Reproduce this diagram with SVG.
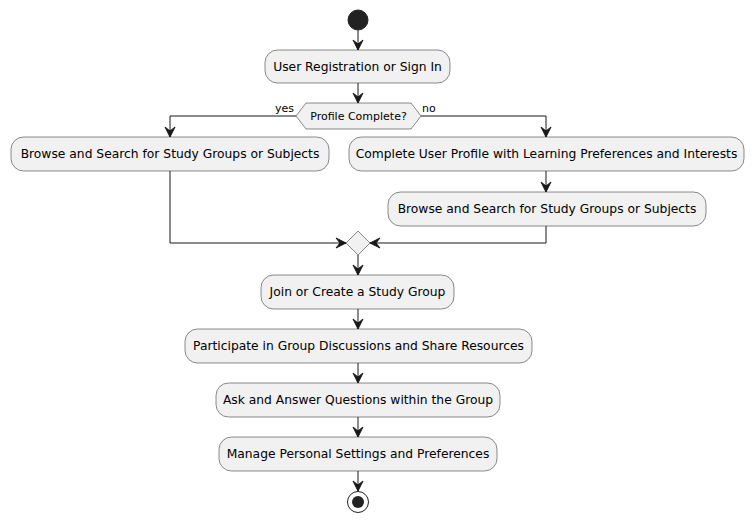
<svg xmlns="http://www.w3.org/2000/svg" width="754" height="523" viewBox="0 0 754 523">
<defs>
<style>
.box{fill:#F1F1F1;stroke:#181818;stroke-width:0.5}
.t{font-family:"DejaVu Sans",sans-serif;font-size:12.3px;fill:#000;text-anchor:middle}
.s{font-family:"DejaVu Sans",sans-serif;font-size:11px;fill:#000}
.ln{fill:none;stroke:#181818;stroke-width:1}
.ah{fill:#181818;stroke:#181818;stroke-width:1}
</style>
</defs>
<rect width="754" height="523" fill="#FFFFFF"/>
<g id="connectors">
<line class="ln" x1="358" y1="30" x2="358" y2="50"/>
<polygon class="ah" points="358,50 353,40 358,44 363,40"/>
<line class="ln" x1="358" y1="83" x2="358" y2="103"/>
<polygon class="ah" points="358,103 353,93 358,97 363,93"/>
<polyline class="ln" points="296,116 170,116 170,137"/>
<polygon class="ah" points="170,137 165,127 170,131 175,127"/>
<polyline class="ln" points="421,116 546,116 546,137"/>
<polygon class="ah" points="546,137 541,127 546,131 551,127"/>
<line class="ln" x1="546" y1="171" x2="546" y2="192"/>
<polygon class="ah" points="546,192 541,182 546,186 551,182"/>
<polyline class="ln" points="170,171 170,243 346,243"/>
<polygon class="ah" points="346,243 336,238 340,243 336,248"/>
<polyline class="ln" points="546,226 546,243 370,243"/>
<polygon class="ah" points="370,243 380,238 376,243 380,248"/>
<line class="ln" x1="358" y1="255" x2="358" y2="275"/>
<polygon class="ah" points="358,275 353,265 358,269 363,265"/>
<line class="ln" x1="358" y1="309" x2="358" y2="329"/>
<polygon class="ah" points="358,329 353,319 358,323 363,319"/>
<line class="ln" x1="358" y1="363" x2="358" y2="383"/>
<polygon class="ah" points="358,383 353,373 358,377 363,373"/>
<line class="ln" x1="358" y1="417" x2="358" y2="437"/>
<polygon class="ah" points="358,437 353,427 358,431 363,427"/>
<line class="ln" x1="358" y1="471" x2="358" y2="491"/>
<polygon class="ah" points="358,491 353,481 358,485 363,481"/>
<text class="s" x="275" y="112">yes</text>
<text class="s" x="422" y="112">no</text>
</g>
<g id="start"><circle cx="358" cy="20" r="10" fill="#222222" stroke="#222222"/></g>
<g id="n1"><rect class="box" x="265" y="50" width="185" height="33" rx="12.5"/><text class="t" x="357.5" y="71">User Registration or Sign In</text></g>
<g id="d1"><polygon class="box" points="296,116 306,103 411,103 421,116 411,129 306,129"/><text class="s" x="358.5" y="120" text-anchor="middle">Profile Complete?</text></g>
<g id="n2"><rect class="box" x="11" y="137" width="318" height="34" rx="12.5"/><text class="t" x="170" y="158">Browse and Search for Study Groups or Subjects</text></g>
<g id="n3"><rect class="box" x="349" y="137" width="395" height="34" rx="12.5"/><text class="t" x="546.5" y="158">Complete User Profile with Learning Preferences and Interests</text></g>
<g id="n4"><rect class="box" x="388" y="192" width="318" height="34" rx="12.5"/><text class="t" x="547" y="213">Browse and Search for Study Groups or Subjects</text></g>
<g id="merge"><polygon class="box" points="358,231 370,243 358,255 346,243"/></g>
<g id="n5"><rect class="box" x="261" y="275" width="193" height="34" rx="12.5"/><text class="t" x="357.5" y="296">Join or Create a Study Group</text></g>
<g id="n6"><rect class="box" x="185" y="329" width="347" height="34" rx="12.5"/><text class="t" x="358.5" y="350">Participate in Group Discussions and Share Resources</text></g>
<g id="n7"><rect class="box" x="216" y="383" width="284" height="34" rx="12.5"/><text class="t" x="358" y="404">Ask and Answer Questions within the Group</text></g>
<g id="n8"><rect class="box" x="219" y="437" width="278" height="34" rx="12.5"/><text class="t" x="358" y="458">Manage Personal Settings and Preferences</text></g>
<g id="end"><circle cx="358" cy="502" r="10.5" fill="none" stroke="#222222" stroke-width="1"/><circle cx="358" cy="502" r="6" fill="#222222"/></g>
</svg>
